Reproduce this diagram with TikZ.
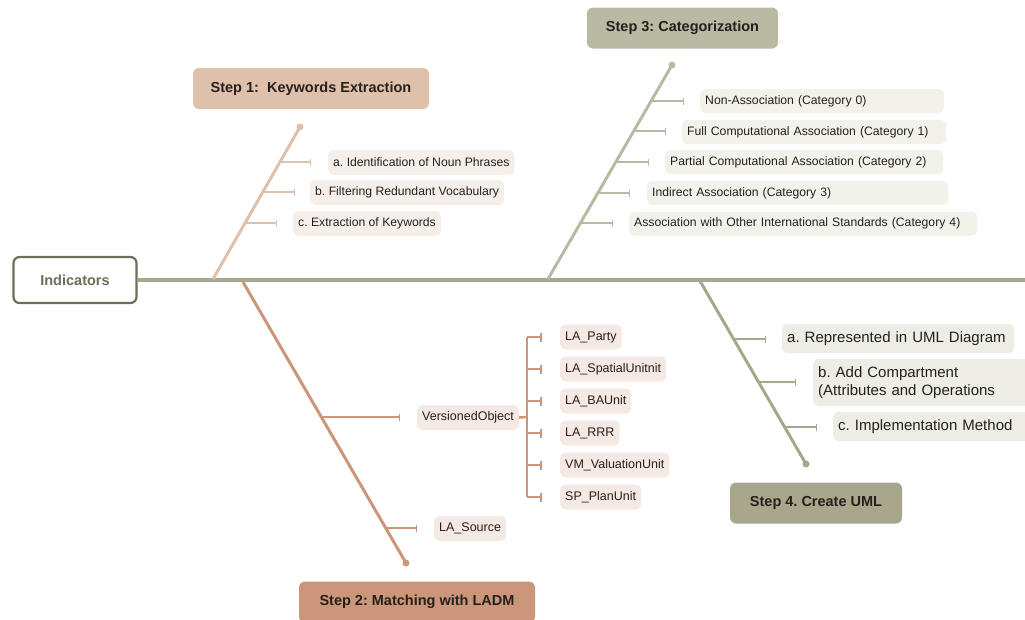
\documentclass[tikz,border=0pt]{standalone}
\usepackage{fontspec}
\setmainfont{Liberation Sans}
\usepackage{xcolor}
\usetikzlibrary{positioning,arrows.meta,calc}
\frenchspacing

\definecolor{spineC}{RGB}{168,168,144}
\definecolor{indC}{RGB}{108,110,90}
\definecolor{oneC}{RGB}{223,192,170}
\definecolor{oneL}{RGB}{246,239,233}
\definecolor{twoC}{RGB}{204,150,122}
\definecolor{twoL}{RGB}{244,233,227}
\definecolor{threeC}{RGB}{186,185,164}
\definecolor{threeL}{RGB}{242,241,234}
\definecolor{fourC}{RGB}{168,167,140}
\definecolor{fourL}{RGB}{237,236,229}
\definecolor{txtC}{RGB}{38,32,28}

\begin{document}
\begin{tikzpicture}[x=1pt, y=-1pt,
    ttl/.style={rounded corners=6pt, fill=#1, minimum height=41pt, inner sep=3pt,
                font=\fontsize{14.5}{17}\selectfont\bfseries, text=txtC},
    itm/.style={rounded corners=5pt, fill=#1, anchor=west, minimum height=25pt,
                inner xsep=5pt, inner ysep=3pt, align=left,
                font=\fontsize{12.2}{14}\selectfont, text=txtC},
    branch/.style={line width=3pt, #1},
    tick/.style={-{Bar[width=7pt, line width=1.2pt]}, line width=1.5pt, #1},
]
\useasboundingbox (0,0) rectangle (1025,619);

% ===== Head and spine =====
\node[draw=indC, line width=2.2pt, rounded corners=6pt, fill=white,
      minimum width=123pt, minimum height=46pt, text=indC,
      font=\fontsize{14.5}{17}\selectfont\bfseries] (ind) at (75,280) {Indicators};
\coordinate (spend) at (1025,280);
\draw[line width=4pt, spineC] (ind.east) -- (spend);

% ===== Step 1 (upper left) =====
\node[ttl=oneC, minimum width=236pt] (s1) at (311,88.5) {Step 1:\ \ Keywords Extraction};
\coordinate (b1) at (213,279);
\coordinate (t1) at (300,127);
\draw[branch=oneC] (b1) -- (t1);
\fill[oneC] (t1) circle (3.5pt);

\node[itm=oneL] (k1a) at (328,162.5) {a. Identification of Noun Phrases};
\node[itm=oneL] (k1b) at (310,192.5) {b. Filtering Redundant Vocabulary};
\node[itm=oneL] (k1c) at (293,223.5) {c. Extraction of Keywords};

\coordinate (o1a) at (280,162);   \coordinate (e1a) at (311,162);
\coordinate (o1b) at (263,192);   \coordinate (e1b) at (295,192);
\coordinate (o1c) at (245,223);   \coordinate (e1c) at (277,223);
\draw[tick=oneC] (o1a) -- (e1a);
\draw[tick=oneC] (o1b) -- (e1b);
\draw[tick=oneC] (o1c) -- (e1c);

% ===== Step 3 (upper right) =====
\node[ttl=threeC, minimum width=191pt] (s3) at (682.5,28) {Step 3: Categorization};
\coordinate (b3) at (548,279);
\coordinate (t3) at (672,65);
\draw[branch=threeC] (b3) -- (t3);
\fill[threeC] (t3) circle (3.5pt);

\node[itm=threeL, minimum height=24pt, text width=234pt] (c0) at (700,101)   {Non-Association (Category 0)};
\node[itm=threeL, minimum height=24pt, text width=254pt] (c1) at (682,132)   {Full Computational Association (Category 1)};
\node[itm=threeL, minimum height=24pt, text width=268pt] (c2) at (665,162)   {Partial Computational Association (Category 2)};
\node[itm=threeL, minimum height=24pt, text width=291pt] (c3) at (647,193)   {Indirect Association (Category 3)};
\node[itm=threeL, minimum height=24pt, text width=338pt] (c4) at (629,223.5) {Association with Other International Standards (Category 4)};

\coordinate (o3a) at (651,101);   \coordinate (e3a) at (684,101);
\coordinate (o3b) at (634,131);   \coordinate (e3b) at (666,131);
\coordinate (o3c) at (616,162);   \coordinate (e3c) at (649,162);
\coordinate (o3d) at (598,193);   \coordinate (e3d) at (630,193);
\coordinate (o3e) at (580,223);   \coordinate (e3e) at (613,223);
\draw[tick=threeC] (o3a) -- (e3a);
\draw[tick=threeC] (o3b) -- (e3b);
\draw[tick=threeC] (o3c) -- (e3c);
\draw[tick=threeC] (o3d) -- (e3d);
\draw[tick=threeC] (o3e) -- (e3e);

% ===== Step 4 (lower right) =====
\node[ttl=fourC, minimum width=172pt] (s4) at (816,503) {Step 4. Create UML};
\coordinate (b4) at (700,281);
\coordinate (t4) at (806,464);
\draw[branch=fourC] (b4) -- (t4);
\fill[fourC] (t4) circle (3.5pt);

\node[itm=fourL, minimum height=29pt, text width=222pt, font=\fontsize{15}{18}\selectfont]
    (u1) at (782,338.5) {a. Represented in UML Diagram};
\node[itm=fourL, minimum height=47pt, text width=210pt, font=\fontsize{15}{18}\selectfont]
    (u2) at (813,382.5) {b. Add Compartment\\(Attributes and Operations};
\node[itm=fourL, minimum height=29pt, text width=200pt, font=\fontsize{15}{18}\selectfont]
    (u3) at (833,426.5) {c. Implementation Method};

\coordinate (o4a) at (734,339);   \coordinate (e4a) at (766,339);
\coordinate (o4b) at (758,382);   \coordinate (e4b) at (796,382);
\coordinate (o4c) at (785,427);   \coordinate (e4c) at (817,427);
\draw[tick=fourC] (o4a) -- (e4a);
\draw[tick=fourC] (o4b) -- (e4b);
\draw[tick=fourC] (o4c) -- (e4c);

% ===== Step 2 (lower left) =====
\node[ttl=twoC, minimum width=236pt] (s2) at (417,602) {Step 2: Matching with LADM};
\coordinate (b2) at (243,282);
\coordinate (t2) at (406,563);
\draw[branch=twoC] (b2) -- (t2);
\fill[twoC] (t2) circle (3.5pt);

\node[itm=twoL, font=\fontsize{12.5}{14}\selectfont] (vo) at (417,417.5) {VersionedObject};
\node[itm=twoL, font=\fontsize{12.5}{14}\selectfont] (src) at (434,528.5) {LA\_Source};

\coordinate (o2a) at (321,417);   \coordinate (e2a) at (400,417);
\coordinate (o2b) at (386,528);   \coordinate (e2b) at (417,528);
\draw[tick=twoC] (o2a) -- (e2a);
\draw[tick=twoC] (o2b) -- (e2b);

% subclasses of VersionedObject
\node[itm=twoL, font=\fontsize{12.5}{14}\selectfont] (p1) at (560,337) {LA\_Party};
\node[itm=twoL, font=\fontsize{12.5}{14}\selectfont] (p2) at (560,369) {LA\_SpatialUnitnit};
\node[itm=twoL, font=\fontsize{12.5}{14}\selectfont] (p3) at (560,401) {LA\_BAUnit};
\node[itm=twoL, font=\fontsize{12.5}{14}\selectfont] (p4) at (560,433) {LA\_RRR};
\node[itm=twoL, font=\fontsize{12.5}{14}\selectfont] (p5) at (560,465) {VM\_ValuationUnit};
\node[itm=twoL, font=\fontsize{12.5}{14}\selectfont] (p6) at (560,497) {SP\_PlanUnit};

\coordinate (br) at (527,417);
\draw[line width=2.5pt, twoC] (vo.east) -- (br);
\draw[line width=2.5pt, twoC] (br |- p1) -- (br |- p6);
\foreach \i in {1,...,6} {
  \coordinate (q\i) at ($(br |- p\i) + (15,0)$);
  \draw[tick=twoC, line width=2.5pt, -{Bar[width=9pt, line width=2pt]}] (br |- p\i) -- (q\i);
}

\end{tikzpicture}
\end{document}
